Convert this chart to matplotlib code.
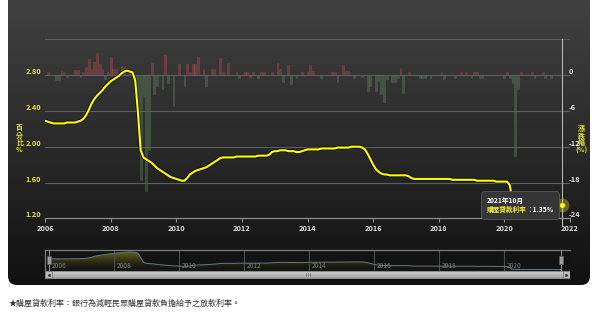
import numpy as np
import matplotlib.pyplot as plt
import matplotlib.patheffects as pe
from matplotlib.patches import FancyBboxPatch, Rectangle
from matplotlib.colors import LinearSegmentedColormap, to_rgb
from matplotlib.offsetbox import TextArea, VPacker, HPacker, AnnotationBbox
from matplotlib.transforms import blended_transform_factory

plt.rcParams['font.family'] = ['Noto Sans CJK TC', 'DejaVu Sans']

# monthly home loan rate (%), Jan 2006 .. Oct 2021
rate = [
    2.29, 2.28, 2.27, 2.26, 2.26, 2.26, 2.26, 2.26, 2.27, 2.27, 2.27, 2.27,  # 2006
    2.28, 2.29, 2.31, 2.35, 2.41, 2.48, 2.53, 2.57, 2.60, 2.63, 2.67, 2.70,  # 2007
    2.73, 2.75, 2.77, 2.79, 2.82, 2.84, 2.85, 2.84, 2.83, 2.74, 2.38, 1.96,  # 2008
    1.88, 1.86, 1.84, 1.82, 1.79, 1.76, 1.74, 1.72, 1.70, 1.68, 1.66, 1.65,  # 2009
    1.64, 1.63, 1.62, 1.62, 1.65, 1.69, 1.71, 1.73, 1.74, 1.75, 1.76, 1.77,  # 2010
    1.79, 1.81, 1.83, 1.85, 1.87, 1.88, 1.88, 1.88, 1.88, 1.88, 1.89, 1.89,  # 2011
    1.89, 1.89, 1.89, 1.89, 1.89, 1.89, 1.90, 1.90, 1.90, 1.90, 1.91, 1.94,  # 2012
    1.95, 1.95, 1.96, 1.96, 1.96, 1.95, 1.95, 1.95, 1.94, 1.94, 1.95, 1.96,  # 2013
    1.97, 1.97, 1.97, 1.97, 1.97, 1.98, 1.98, 1.98, 1.98, 1.98, 1.98, 1.99,  # 2014
    1.99, 1.99, 1.99, 1.99, 2.00, 2.00, 2.00, 2.00, 1.99, 1.97, 1.92, 1.86,  # 2015
    1.80, 1.75, 1.72, 1.70, 1.69, 1.69, 1.68, 1.68, 1.68, 1.68, 1.68, 1.68,  # 2016
    1.68, 1.67, 1.65, 1.64, 1.64, 1.64, 1.64, 1.64, 1.64, 1.64, 1.64, 1.64,  # 2017
    1.64, 1.64, 1.64, 1.64, 1.64, 1.63, 1.63, 1.63, 1.63, 1.63, 1.63, 1.63,  # 2018
    1.63, 1.63, 1.62, 1.62, 1.62, 1.62, 1.62, 1.62, 1.62, 1.61, 1.61, 1.61,  # 2019
    1.61, 1.61, 1.57, 1.37, 1.35, 1.35, 1.35, 1.35, 1.35, 1.35, 1.35, 1.35,  # 2020
    1.35, 1.35, 1.35, 1.35, 1.35, 1.35, 1.35, 1.35, 1.35, 1.35,              # 2021
]

# monthly change (%), right axis bars
change = [
    0, 0.45, 0, 0, -0.8, -0.8, 0.7, 0.45, -0.4, 0, 0, 0.85,                  # 2006
    0.85, -0.4, 0.45, 1.3, 2.7, 1.1, 2.2, 3.7, 1.8, 1.1, -0.7, 0.45,         # 2007
    3.1, 1.1, 1.1, 0, 1.6, 1.3, 0, 0.9, 0.7, -1.5, -5.5, -17.6,              # 2008
    -3.5, -19.5, -12.5, 2.1, -3.2, -1.8, 0, -2.4, 3.3, -1.4, 0, -5.2,        # 2009
    0, 1.8, 0, -1.8, 1.8, 0.45, 1.8, 1.8, 3.0, 0, 1.1, -1.8,                 # 2010
    0, 1.1, 1.1, 0, 2.8, 0.6, 0, 2.1, 0, 0, 0.6, -0.56,                      # 2011
    0, 0.45, 0.45, -0.4, 0.6, 0, -0.56, 0.45, 0.45, 0, 0, 0.6,               # 2012
    0, 2.1, 1.0, -1.1, 0, 1.7, -1.5, 0, -0.56, 0, 0.45, 0,                   # 2013
    0.45, 1.7, 0.7, 0, 0, -0.56, 0, 0, 0, 0.45, 0.45, -1.1,                  # 2014
    0, 1.7, 0.7, 0.7, 0, -0.56, 0, 0, -0.4, 0, -2.6, -1.8,                   # 2015
    0, -2.6, -1.0, -3.2, -4.5, -0.7, 0, -1.2, -1.2, -0.56, 1.2, -3.0,        # 2016
    0, 0.6, 0, 0, 0, -0.56, -0.56, -0.56, 0, -0.56, 0, 0,                    # 2017
    0, 0.6, -0.7, 0, 0, 0, -0.56, 0, 0.6, 0, 0.6, 0,                         # 2018
    -0.56, 0.6, 0.6, -0.56, -0.56, 0, 0, 0, 0, 0, 0, 0,                      # 2019
    -0.56, 0.6, -0.56, -1.3, -13.5, -2.3, 0.6, 0, 0, 0, 0.6, -0.56,          # 2020
    0, 0, 0.6, -0.56, 0, -0.56, 0, 0, 0, 0,                                  # 2021
]

start_year = 2006
x_ticks = list(range(2006, 2023, 2))
left_ticks = [1.20, 1.60, 2.00, 2.40, 2.80, 3.20]
right_ticks = [-24, -18, -12, -6, 0, 6]
nav_years = list(range(2006, 2021, 2))

tip_date = "2021年10月"
tip_name = "購屋貸款利率"
tip_value = "：1.35%"
caption = "★購屋貸款利率：銀行為減輕民眾購屋貸款負擔給予之放款利率。"

rate = np.array(rate)
change = np.array(change)
t = start_year + np.arange(len(rate)) / 12

W, H = 600, 312
fig = plt.figure(figsize=(6, 3.12), dpi=100)
fig.patch.set_facecolor('white')


def px_axes(x0, y0, x1, y1):
    return fig.add_axes([x0 / W, 1 - y1 / H, (x1 - x0) / W, (y1 - y0) / H])


# dark panel background
bg = fig.add_axes([0, 0, 1, 1])
bg.set_zorder(-5)
bg.set_xlim(0, W)
bg.set_ylim(H, 0)
bg.axis('off')
panel = FancyBboxPatch((8, -20), 582, 305, boxstyle='round,pad=0,rounding_size=9',
                       fc='none', ec='none')
bg.add_patch(panel)
grad = np.linspace(0, 1, 256).reshape(-1, 1)
cmap_bg = LinearSegmentedColormap.from_list('bg', ['#444444', '#2c2c2c', '#111111'])
img = bg.imshow(grad, extent=(8, 590, 285, -20), cmap=cmap_bg, aspect='auto',
                origin='upper', zorder=0)
img.set_clip_path(panel)

for yy, ch in zip([127.5, 135, 142.5, 150], ["百", "分", "比", "%"]):
    bg.text(19.5, yy, ch, color='#e6e62e', fontsize=5, fontweight='bold',
            ha='center', va='center')
for yy, ch in zip([128.5, 135.5, 143, 150.5], ["漲", "跌", "幅", "(%)"]):
    bg.text(581.5, yy, ch, color='#e6e62e', fontsize=5, fontweight='bold',
            ha='center', va='center')
bg.text(9, 303, caption, color='#333333', fontsize=5.8, ha='left', va='center')

# main chart
ax = px_axes(45, 39.3, 570, 218.3)
ax2 = ax.twinx()
ax.set_zorder(2)
ax2.set_zorder(1)
ax.patch.set_visible(False)
ax2.patch.set_visible(False)

bar_colors = np.where(change >= 0, '#a84848', '#5a7858')
edge_colors = np.where(change >= 0, '#b85858', '#688a66')
nz = change != 0
ax2.bar(t[nz], change[nz], width=0.055, color=bar_colors[nz], edgecolor=edge_colors[nz],
        linewidth=0.4, alpha=0.45)
ax2.set_ylim(-24, 6)
ax2.set_yticks(right_ticks)
ax2.set_yticklabels(['-24', '-18', '-12', '-6', '0', ''])
for s in ax2.spines.values():
    s.set_visible(False)
ax2.tick_params(axis='y', length=0, pad=-1, labelsize=5.3, labelcolor='#e6e6e6')
for lbl in ax2.get_yticklabels():
    lbl.set_va('bottom')
    lbl.set_fontweight('bold')

ax.set_xlim(2006, 2022)
ax.set_ylim(1.2, 3.2)
ax.set_yticks(left_ticks)
ax.set_yticklabels(['1.20', '1.60', '2.00', '2.40', '2.80', ''])
ax.set_xticks(x_ticks)
ax.set_xticklabels([str(y) for y in x_ticks])
ax.grid(axis='y', color='#5e5e5e', lw=0.8)
ax.set_axisbelow(True)
for k in ['top', 'left', 'right']:
    ax.spines[k].set_visible(False)
ax.spines['bottom'].set_color('#8c8c8c')
ax.spines['bottom'].set_linewidth(0.9)
ax.tick_params(axis='y', length=0, pad=3, labelsize=5.3, labelcolor='#e6e62e')
ax.tick_params(axis='x', length=3, width=0.8, color='#8c8c8c', pad=1.5,
               labelsize=5.3, labelcolor='#dddddd', direction='out')
for lbl in ax.get_yticklabels():
    lbl.set_va('bottom')
    lbl.set_fontweight('bold')
for lbl in ax.get_xticklabels():
    lbl.set_fontweight('bold')

ax.plot(t, rate, color='#ffff00', lw=1.5, zorder=4,
        path_effects=[pe.Stroke(linewidth=2.8, foreground='#0a0a0a', alpha=0.75), pe.Normal()])

ax.axvline(t[-1], ymin=-0.035, ymax=1, color='#b4b4b4', lw=0.8, clip_on=False, zorder=3)
ax.plot(t[-1], rate[-1], 'o', ms=10, color='#e0e040', alpha=0.35, mec='none', zorder=5)
ax.plot(t[-1], rate[-1], 'o', ms=4, color='#ffff20', mec='#8a8a00', mew=0.5, zorder=6)

tp = dict(fontsize=4.8, fontweight='bold')
box = VPacker(children=[TextArea(tip_date, textprops=dict(color='white', **tp)),
                        HPacker(children=[TextArea(tip_name, textprops=dict(color='#f2f23c', **tp)),
                                          TextArea(tip_value, textprops=dict(color='white', **tp))],
                                pad=0, sep=0)],
              pad=0, sep=1.5, align='left')
ab = AnnotationBbox(box, (t[-1], rate[-1]), xybox=(-8, 0), xycoords='data',
                    boxcoords='offset pixels', box_alignment=(1, 0.5), frameon=True, pad=0.4,
                    bboxprops=dict(boxstyle='round,pad=0.4,rounding_size=0.25',
                                   fc='#363636', ec='#5a5a5a', lw=0.6))
ab.set_zorder(7)
ax.add_artist(ab)

# navigator
nav = px_axes(45, 250, 570, 271)
nav.set_facecolor('#131313')
nav.set_xlim(2005.89, 2022.04)
nav.set_ylim(1.22, 3.02)
nav.set_xticks([])
nav.set_yticks([])
for k in ['bottom', 'right']:
    nav.spines[k].set_visible(False)
for k in ['top', 'left']:
    nav.spines[k].set_color('#7a7a7a')
    nav.spines[k].set_linewidth(0.9)
tr = blended_transform_factory(nav.transData, nav.transAxes)
for yr in nav_years:
    if yr > 2006:
        nav.axvline(yr, color='#4c4c4c', lw=0.8)
    nav.text(yr + 0.1, 0.22, str(yr), transform=tr, color='#7c7c7c', fontsize=4.8,
             ha='left', va='center')
poly = nav.fill_between(t, rate, 1.22, color='none')
rgba = np.zeros((200, 1, 4))
rgba[..., :3] = to_rgb('#6a6a18')
rgba[:, 0, 3] = np.linspace(1, 0, 200) ** 1.6
gimg = nav.imshow(rgba, extent=(2005.89, 2022.04, 1.22, 2.9), aspect='auto', origin='upper', zorder=1)
gimg.set_clip_path(poly.get_paths()[0], transform=nav.transData)
nav.plot(t, rate, color='#62798c', lw=0.7, zorder=2)
for xh in (t[0], t[-1]):
    nav.axvline(xh, color='#8c8c8c', lw=0.8, zorder=3)
    nav.add_patch(Rectangle((xh - 0.06, 0.33), 0.12, 0.38, transform=tr, fc='#9c9c9c',
                            ec='#5c5c5c', lw=0.5, zorder=4))

# scrollbar
sb = px_axes(45, 271, 570, 278.5)
sb.set_xlim(0, 525)
sb.set_ylim(0, 7.5)
sb.axis('off')
sb_grad = np.linspace(0, 1, 50).reshape(-1, 1)
sb.imshow(sb_grad, extent=(0, 525, 0, 7.5), cmap=LinearSegmentedColormap.from_list('sb', ['#d0d0d0', '#9c9c9c']),
          aspect='auto', origin='upper')
sb.add_patch(Rectangle((0.3, 0.3), 524.4, 6.9, fc='none', ec='#8a8a8a', lw=0.7))
for bx in (0.3, 517.7):
    sb.add_patch(Rectangle((bx, 0.3), 7, 6.9, fc='#bdbdbd', ec='#7a7a7a', lw=0.6))
sb.plot([3.8], [3.75], marker=(3, 0, 90), ms=1.8, color='#444444')
sb.plot([521.2], [3.75], marker=(3, 0, -90), ms=1.8, color='#444444')
for gx in (260.5, 262.5, 264.5):
    sb.plot([gx, gx], [2.2, 5.3], color='#666666', lw=0.5)

fig.savefig('out.png', dpi=100)
